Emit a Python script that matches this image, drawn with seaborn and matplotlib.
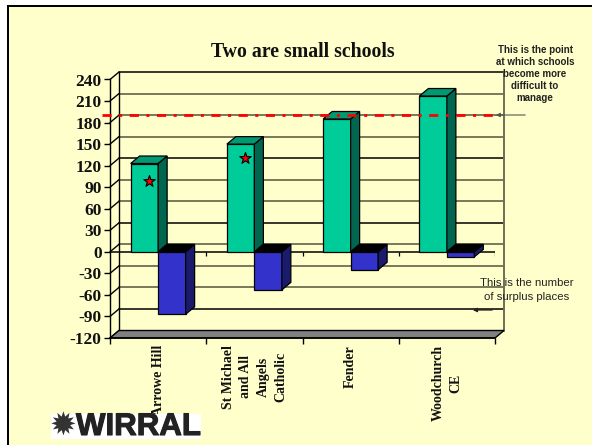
import numpy as np
import pandas as pd
import matplotlib
matplotlib.use('Agg')
import matplotlib.pyplot as plt
import matplotlib.patheffects as pe
import seaborn as sns
from matplotlib.patches import Polygon, Rectangle

schools = ['Arrowe Hill', 'St Michael\nand All\nAngels\nCatholic', 'Fender', 'Woodchurch\nCE']
pupils = [123, 150, 185, 217]
surplus = [-87, -53, -25, -7]
star_values = [99, 131]
limit_value = 190
y_ticks = list(range(-120, 241, 30))

GREEN = ['#00CC99', '#006650', '#009973']
BLUE = ['#3333CC', '#1B1B6B', '#000000']
PAPER = '#FFFFCC'

sns.set_theme(style='white')
plt.rcParams['font.family'] = ['Liberation Serif', 'DejaVu Sans']

W, H = 592, 445
fig = plt.figure(figsize=(W / 100, H / 100), dpi=100, facecolor='white')

# page background and the black slide border
fig.patches.append(Rectangle((7 / W, 0), 1, 1 - 5 / H, transform=fig.transFigure,
                             facecolor='black', edgecolor='none', zorder=0))
fig.patches.append(Rectangle((9 / W, 0), 1, 1 - 7 / H, transform=fig.transFigure,
                             facecolor=PAPER, edgecolor='none', zorder=0.5))

ax = fig.add_axes([110 / W, (H - 338) / H, 385 / W, 258.5 / H])
ax.set_zorder(2)
ax.patch.set_alpha(0)

df = pd.DataFrame({
    'school': schools * 2,
    'value': pupils + surplus,
    'series': ['pupils'] * 4 + ['surplus'] * 4,
})
sns.barplot(data=df, x='school', y='value', hue='series', order=schools,
            palette={'pupils': GREEN[0], 'surplus': BLUE[0]}, saturation=1,
            width=0.571, gap=0, dodge=True, legend=False,
            edgecolor='black', linewidth=0.9, ax=ax, zorder=4)

ax.set_xlim(-0.5, 3.5)
ax.set_ylim(-120, 240)

# depth of the fake 3d box in data units (9px across, 7.5px up)
dx = 9 / 96.25
dy = 7.5 / 21.55 * 30

# back wall, floor and side wall
for v in y_ticks[1:]:
    col = '#000000' if v in (240, 120, 30, -90) else '#55553A'
    ax.plot([-0.5 + dx, 3.5 + dx], [v + dy, v + dy], color=col, lw=1.1, clip_on=False, zorder=1)
for v in y_ticks:
    ax.plot([-0.5, -0.5 + dx], [v, v + dy], color='black', lw=1.0, clip_on=False, zorder=1)
ax.plot([-0.5 + dx, -0.5 + dx], [-120 + dy, 240 + dy], color='black', lw=1.0, clip_on=False, zorder=1)
ax.plot([3.5 + dx, 3.5 + dx], [-120 + dy, 240 + dy], color='#6E6E55', lw=1.4, clip_on=False, zorder=1)
ax.add_patch(Polygon([(-0.5, -120), (3.5, -120), (3.5 + dx, -120 + dy), (-0.5 + dx, -120 + dy)],
                     facecolor='#808080', edgecolor='black', lw=1.0, clip_on=False, zorder=2))
ax.axhline(0, color='black', lw=1.1, zorder=3)
ax.vlines([0.5, 1.5, 2.5, 3.5], -6, 0, color='black', lw=0.9, zorder=3)

# side and top faces built on what seaborn drew
for bar in list(ax.patches):
    if not isinstance(bar, Rectangle) or bar.get_zorder() != 4:
        continue
    x0, w = bar.get_x(), bar.get_width()
    y0, h = bar.get_y(), bar.get_height()
    y1 = y0 + h
    lo, hi = min(y0, y1), max(y0, y1)
    shades = GREEN if y1 > 0 else BLUE
    ax.add_patch(Polygon([(x0 + w, lo), (x0 + w + dx, lo + dy), (x0 + w + dx, hi + dy), (x0 + w, hi)],
                         facecolor=shades[1], edgecolor='black', lw=0.9, clip_on=False, zorder=4))
    ax.add_patch(Polygon([(x0, hi), (x0 + dx, hi + dy), (x0 + w + dx, hi + dy), (x0 + w, hi)],
                         facecolor=shades[2], edgecolor='black', lw=0.9, clip_on=False, zorder=4))

# stars sit on the two small schools
ax.scatter([-0.09, 0.9], star_values, marker='*', s=75, color='#FF0000',
           edgecolor='black', linewidth=0.8, zorder=6)

# threshold line
ax.hlines(limit_value, -0.583, 3.48, color='#FF0000', lw=2.0, clip_on=False, zorder=7,
          linestyles=[(0, (3.3, 2.7, 1.1, 2.7))])

# axes
sns.despine(ax=ax, top=True, right=True)
ax.spines['left'].set_color('black')
ax.spines['bottom'].set_color('black')
ax.spines['left'].set_linewidth(1.0)
ax.spines['bottom'].set_linewidth(1.1)
ax.set_yticks(y_ticks)
ax.set_yticklabels([str(v) for v in y_ticks], fontsize=12.5, fontweight='bold', color='#111111')
ax.tick_params(axis='y', left=True, length=4.5, width=1.0, color='black', pad=1.5)
ax.set_xticks([0, 1, 2, 3])
ax.set_xticklabels(schools, rotation=90, fontsize=10, fontweight='bold', color='#111111',
                   va='top', ha='center', linespacing=1.45)
ax.set_xticks([-0.5, 0.5, 1.5, 2.5, 3.5], minor=True)
ax.tick_params(axis='x', which='major', bottom=False, pad=-1)
ax.tick_params(axis='x', which='minor', bottom=True, length=4.5, width=1.0, color='black')
ax.set_xlabel('')
ax.set_ylabel('')
ax.set_title('Two are small schools', fontsize=14.3, fontweight='bold', color='#111111', pad=16.5)

# notes and their arrows
note_font = ['Liberation Sans', 'DejaVu Sans']
fig.text(535 / W, 1 - 74 / H, 'This is the point\nat which schools\nbecome more\ndifficult to\nmanage',
         ha='center', va='center', fontsize=7, fontweight='bold', color='#222222',
         family=note_font, linespacing=1.26, zorder=8)
fig.text(527 / W, 1 - 290 / H, 'This is the number\nof surplus places',
         ha='center', va='center', fontsize=8.2, color='#222222',
         family=note_font, linespacing=1.45, zorder=8)
ax.annotate('', xy=(493 / W, 1 - 115 / H), xytext=(528 / W, 1 - 115 / H),
            xycoords='figure fraction', textcoords='figure fraction',
            arrowprops=dict(arrowstyle='-|>', color='#555555', lw=0.8, mutation_scale=6), zorder=8)
ax.annotate('', xy=(470 / W, 1 - 310 / H), xytext=(495 / W, 1 - 310 / H),
            xycoords='figure fraction', textcoords='figure fraction',
            arrowprops=dict(arrowstyle='-|>', color='#222222', lw=0.9, mutation_scale=6), zorder=8)

# logo, sits over the first school label like in the slide
fig.patches.append(Rectangle((51 / W, 1 - 439 / H), 150 / W, 25 / H, transform=fig.transFigure,
                             facecolor='white', edgecolor='none', zorder=3))
fig.text(63.5 / W, 1 - 427 / H, '\u2739', ha='center', va='center', fontsize=23,
         color='#333333', family='DejaVu Sans', zorder=4)
logo = fig.text(76 / W, 1 - 427 / H, 'WIRRAL', ha='left', va='center', fontsize=22.5,
                fontweight='bold', color='#222222', family=note_font, zorder=4)
logo.set_path_effects([pe.withStroke(linewidth=0.8, foreground='#222222')])

fig.savefig('out.png', dpi=100, facecolor='white')
